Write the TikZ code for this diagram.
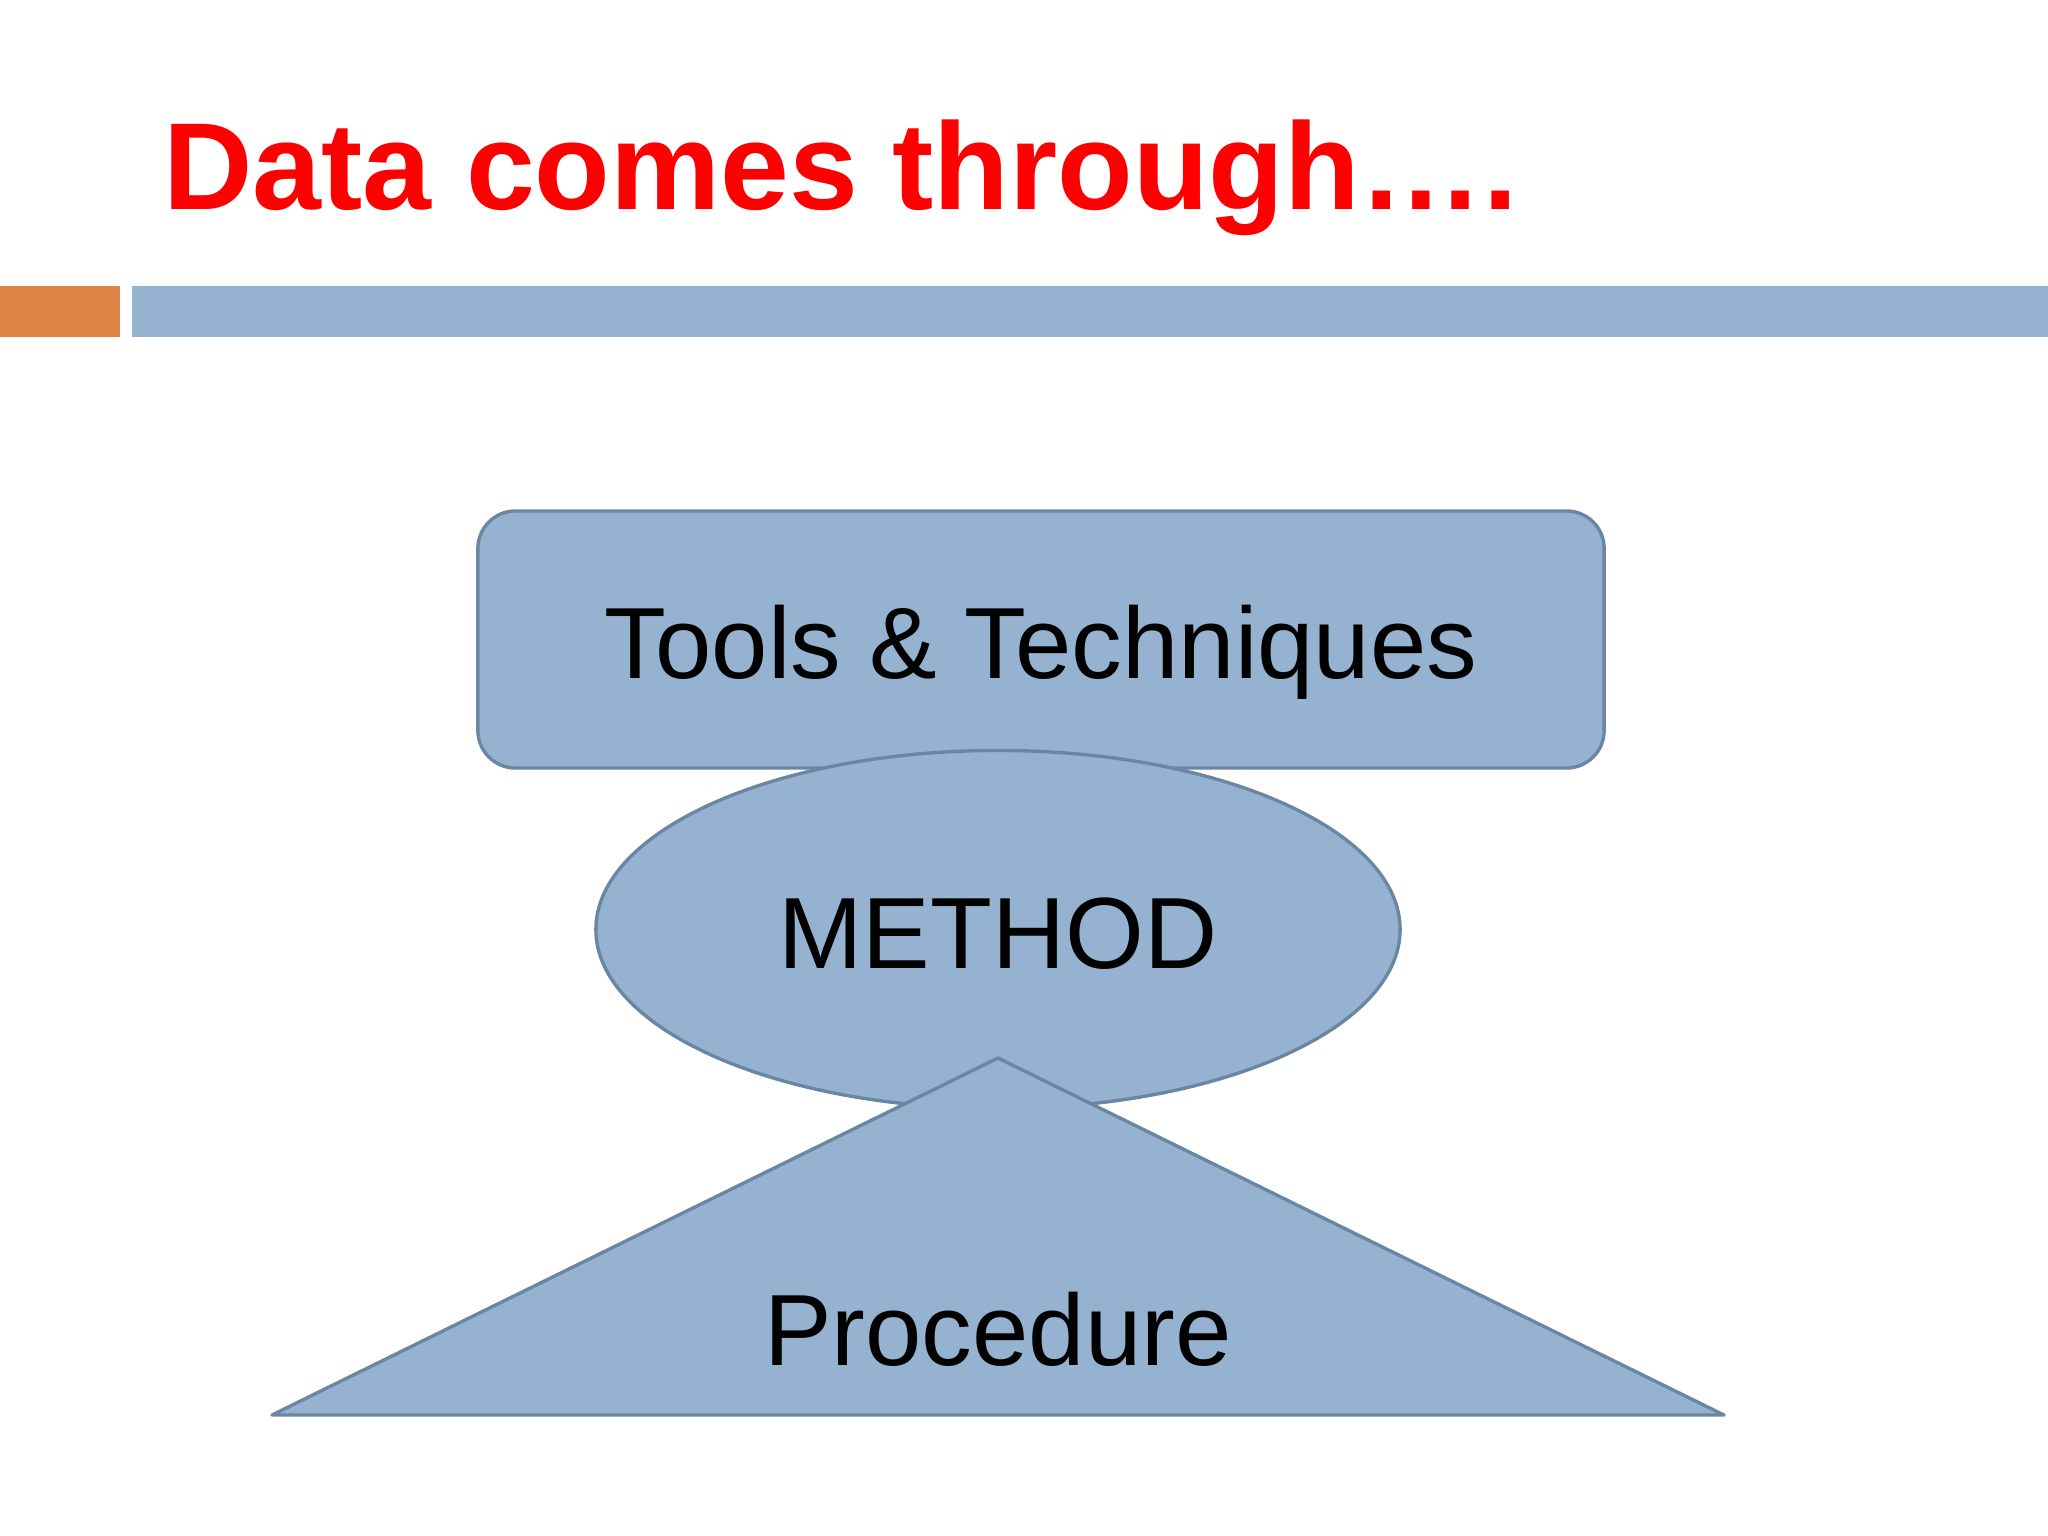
\documentclass[tikz,border=0pt]{standalone}
\usepackage{fontspec}
\setmainfont{Liberation Sans}
\usetikzlibrary{shapes.geometric}
\definecolor{shapefill}{HTML}{95B3D1}
\definecolor{shapeline}{HTML}{6A86A3}
\definecolor{barblue}{HTML}{95B3D1}
\definecolor{barorange}{HTML}{DF8346}
\definecolor{titlered}{HTML}{FF0000}
\tikzset{
  shapestyle/.style={fill=shapefill, draw=shapeline, line width=1.2pt},
  labeltext/.style={anchor=base, inner sep=0pt, font=\fontsize{36}{40}\selectfont, text=black},
}
\begin{document}
\begin{tikzpicture}[x=0.0125cm, y=-0.0125cm]
\useasboundingbox[fill=white] (0,0) rectangle (2048,1536);
% header bars
\fill[barorange] (0,286) rectangle (120,337);
\fill[barblue] (132,286) rectangle (2048,337);
% title
\node[anchor=base west, inner sep=0pt, text=titlered, font=\fontsize{44}{48}\selectfont\bfseries] (title) at (163,209) {Data comes through….};
% shapes
\node[shapestyle, rectangle, rounded corners=0.47cm, minimum width=14.075cm, minimum height=3.2125cm, inner sep=0pt] (tools) at (1041,639.5) {};
\node[shapestyle, ellipse, minimum width=10.05cm, minimum height=4.475cm, inner sep=0pt] (method) at (998,929.5) {};
\coordinate (apex) at (998,1058);
\coordinate (bl) at (272,1415);
\coordinate (br) at (1724,1415);
\path[shapestyle, line join=round] (apex) -- (br) -- (bl) -- cycle;
% labels
\node[labeltext] (toolslbl) at (1041,678) {Tools \& Techniques};
\node[labeltext] (methodlbl) at (998,968) {METHOD};
\node[labeltext] (proclbl) at (998,1365) {Procedure};
\end{tikzpicture}
\end{document}
